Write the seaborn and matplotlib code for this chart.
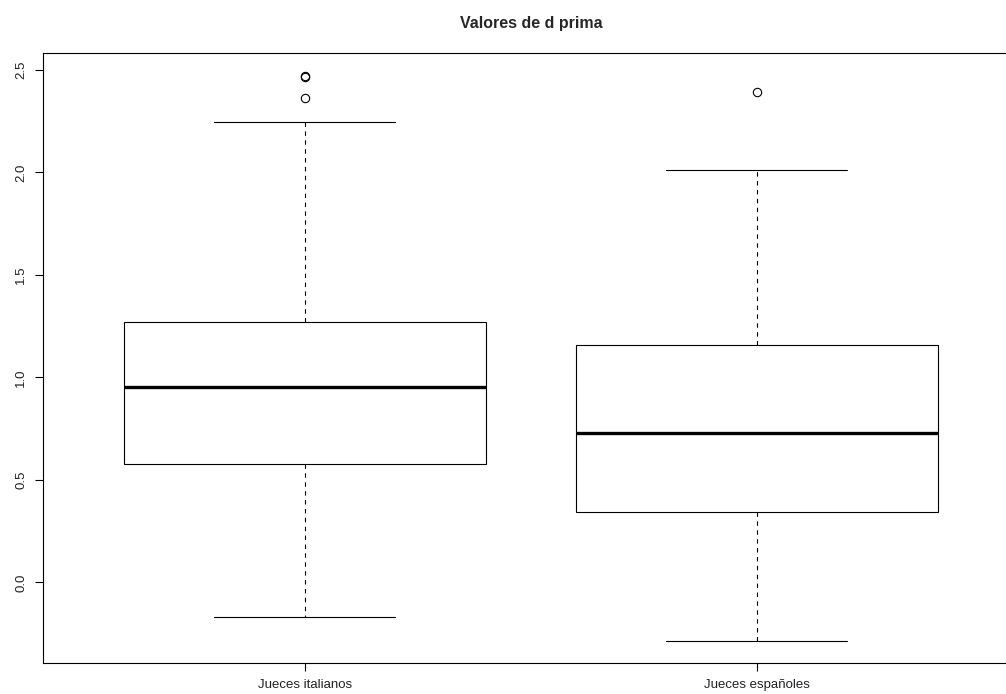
import pandas as pd
import matplotlib
matplotlib.use("Agg")
import matplotlib.pyplot as plt
import seaborn as sns

# values; whiskers, hinges, median and outliers are visible,
# the filler points only sit between them so the quartiles land where they are drawn
categories = ["Jueces italianos", "Jueces españoles"]

italianos = [-0.168, 0.10, 0.30, 0.45, 0.576,
             0.65, 0.75, 0.85, 0.955,
             1.05, 1.15, 1.22, 1.272,
             2.248, 2.362, 2.465, 2.471]

espanoles = [-0.285, 0.10, 0.343, 0.55, 0.729,
             0.95, 1.158, 2.012, 2.393]

yticks = [0.0, 0.5, 1.0, 1.5, 2.0, 2.5]
title = "Valores de d prima"


def main():
	sns.set_style("white")
	plt.rcParams["font.family"] = ["Liberation Sans", "DejaVu Sans"]

	data = pd.DataFrame({
		"grupo": [categories[0]] * len(italianos) + [categories[1]] * len(espanoles),
		"valor": italianos + espanoles,
	})

	fig = plt.figure(figsize=(10.06, 6.94), dpi=100)
	ax = fig.add_axes([0.0424, 0.0442, 0.9705, 0.879])

	sns.boxplot(data=data, x="grupo", y="valor", order=categories, ax=ax,
				width=0.8, color="white", linecolor="black", linewidth=0.8,
				saturation=1, fliersize=6,
				medianprops=dict(color="black", linewidth=2.4),
				whiskerprops=dict(color="black", linewidth=0.8, linestyle=(0, (4, 4))),
				capprops=dict(color="black", linewidth=0.8),
				flierprops=dict(marker="o", markerfacecolor="none",
								markeredgecolor="black", markeredgewidth=0.8))

	ax.set_xlim(-0.58, 1.58)
	ax.set_ylim(-0.395, 2.581)
	ax.set_yticks(yticks)
	ax.set_yticklabels(["%.1f" % t for t in yticks], rotation=90, va="center")
	ax.set_xlabel("")
	ax.set_ylabel("")
	ax.tick_params(axis="both", direction="out", length=6, width=0.8,
				   color="black", labelsize=9.5, labelcolor="#222222")
	ax.tick_params(axis="y", pad=5, left=True)
	ax.tick_params(axis="x", pad=5, bottom=True)
	for s in ax.spines.values():
		s.set_color("black")
		s.set_linewidth(0.8)
		s.set_visible(True)

	ax.set_title(title, fontsize=11.5, fontweight="bold", pad=18)

	fig.savefig("out.png", dpi=100)


if __name__ == "__main__":
	main()
